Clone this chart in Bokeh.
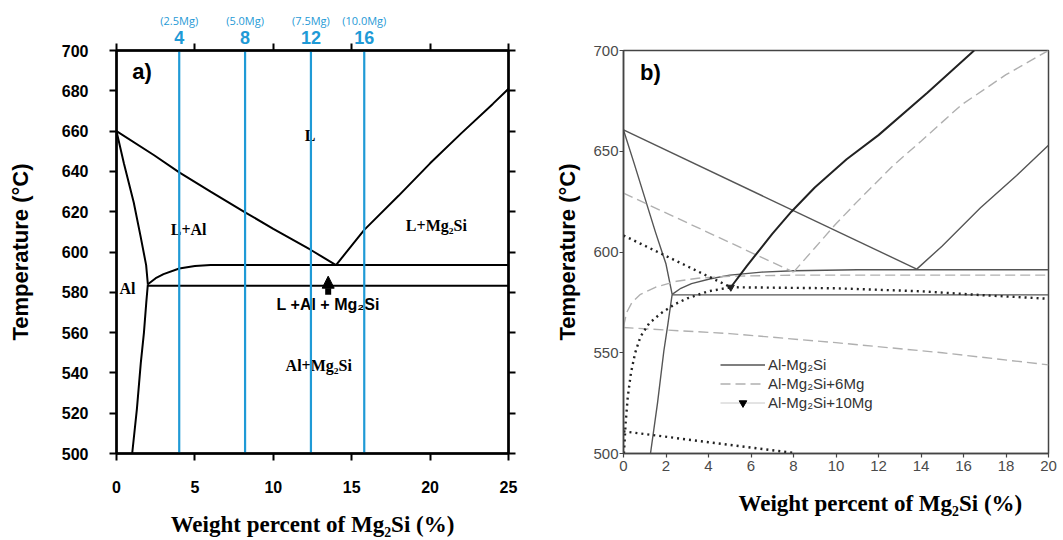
from bokeh.plotting import figure
from bokeh.layouts import row
from bokeh.models import (Range1d, LinearAxis, FixedTicker, Arrow, NormalHead,
                          Legend, LegendItem, Title, ColumnDataSource)
from bokeh.embed import file_html
from bokeh.resources import INLINE
from bokeh.core.properties import value

# ---------------- Panel a data (wt% Mg2Si, temperature in C) ----------------
a_xticks = [0, 5, 10, 15, 20, 25]
a_yticks = [500, 520, 540, 560, 580, 600, 620, 640, 660, 680, 700]

a_liq_al_x = [0, 2.4, 4.0, 6.0, 8.2, 10.0, 12.4, 14.0]
a_liq_al_t = [660, 648, 639.5, 630, 619.7, 611.5, 601, 593.5]
a_liq_mg_x = [14.0, 15.8, 18.0, 20.0, 22.0, 24.0, 25.0]
a_liq_mg_t = [593.5, 611, 628, 644, 659, 673.5, 681]
a_solidus_x = [0, 0.47, 1.1, 1.53, 1.89, 2.0]
a_solidus_t = [660, 644, 624.6, 608, 593.5, 584]
a_solvus_x = [2.0, 1.9, 1.75, 1.55, 1.3, 1.0]
a_solvus_t = [584, 575, 560, 545, 522, 500]
a_upper_x = [2.0, 2.5, 3.0, 4.0, 5.0, 6.0, 25.0]
a_upper_t = [584, 587, 589, 591.8, 593, 593.5, 593.5]
a_eut_x = [2.0, 25.0]
a_eut_t = [583.3, 583.3]

blue_x = [4.0, 8.2, 12.4, 15.8]
blue_num = ["4", "8", "12", "16"]
blue_mg = ["(2.5Mg)", "(5.0Mg)", "(7.5Mg)", "(10.0Mg)"]

region_text = ["L", "L+Al", "L+Mg\u2082Si", "Al", "Al+Mg\u2082Si"]
region_x = [12.35, 4.6, 20.4, 0.7, 12.9]
region_t = [657.6, 611, 613, 582, 543.5]
tern_text = ["L +Al + Mg\u2082Si"]
tern_x = [13.5]
tern_t = [574]
arrow_x = [13.5]
arrow_t0 = [578.8]
arrow_t1 = [588.0]

# ---------------- Panel b data ----------------
b_xticks = [0, 2, 4, 6, 8, 10, 12, 14, 16, 18, 20]
b_yticks = [500, 550, 600, 650, 700]

# Al-Mg2Si
b0_liq_al_x = [0, 13.8]
b0_liq_al_t = [660.6, 591.5]
b0_liq_mg_x = [13.8, 15, 16.8, 18.5, 20]
b0_liq_mg_t = [591.5, 603, 622, 638, 653]
b0_solidus_x = [0, 0.5, 1.0, 1.5, 2.0, 2.29]
b0_solidus_t = [660.6, 644, 627, 610, 594, 579]
b0_solvus_x = [2.29, 2.1, 1.9, 1.6, 1.27]
b0_solvus_t = [579, 565, 551, 525, 500]
b0_upper_x = [2.29, 2.7, 3.2, 4.1, 5, 6.5, 8, 11, 20]
b0_upper_t = [579, 582, 584.3, 586.7, 588.5, 590, 590.7, 591.2, 591.2]
b0_eut_x = [2.29, 20]
b0_eut_t = [578.7, 578.7]

# Al-Mg2Si+6Mg
b6_liq_al_x = [0, 8.0]
b6_liq_al_t = [629.2, 590]
b6_liq_mg_x = [8.0, 9, 10, 11, 12.7, 14, 15.9, 18, 20]
b6_liq_mg_t = [590, 602, 614, 625, 643, 655, 673, 688, 700]
b6_upper_x = [0, 0.15, 0.4, 0.8, 1.5, 2.5, 3.5, 5, 8, 20]
b6_upper_t = [563, 570, 575, 579, 582.5, 585.5, 587, 588, 588.5, 588.5]
b6_lower_x = [0, 5, 10, 15, 20]
b6_lower_t = [562.5, 559.5, 555, 550, 544]

# Al-Mg2Si+10Mg
b10_liq_al_x = [0, 5.05]
b10_liq_al_t = [608.2, 582.5]
b10_liq_mg_x = [5.05, 5.8, 7, 7.9, 9, 10.5, 12, 14.3, 16.5]
b10_liq_mg_t = [582.5, 593, 609, 620, 632, 646, 658, 679, 700]
b10_eut_x = [5.05, 10, 14, 17, 20]
b10_eut_t = [582.5, 582, 580.5, 578.5, 576.8]
b10_curve_x = [0.02, 0.1, 0.2, 0.35, 0.55, 0.8, 1.2, 1.75, 2.4, 3, 4, 5.05]
b10_curve_t = [500, 515, 528, 540, 550, 558, 564.5, 569.5, 574, 577, 580.5, 582.5]
b10_lower_x = [0, 4, 8]
b10_lower_t = [511, 505.6, 500.3]
b10_pt_x = [5.05]
b10_pt_t = [582.5]

legend_labels = ["Al-Mg\u2082Si", "Al-Mg\u2082Si+6Mg", "Al-Mg\u2082Si+10Mg"]

BLUE = "#1f9ad6"
SANS = "Liberation Sans"
SERIF = "Liberation Serif"

# ======================= Panel a =======================
p1 = figure(frame_width=392, frame_height=403, x_range=Range1d(0, 25), y_range=Range1d(500, 700),
            output_backend="svg", toolbar_location=None,
            min_border_left=116, min_border_right=32, min_border_top=50, min_border_bottom=87)
p1.xgrid.visible = False
p1.ygrid.visible = False
p1.outline_line_color = "black"
p1.outline_line_width = 2


def style_axis_a(ax, ticks, labels=True):
    ax.ticker = FixedTicker(ticks=ticks)
    ax.axis_line_width = 2.5
    ax.axis_line_color = "black"
    ax.major_tick_line_width = 2
    ax.major_tick_out = 7
    ax.major_tick_in = 0
    ax.minor_tick_line_color = None
    ax.major_label_text_font = SANS
    ax.major_label_text_font_style = "bold"
    ax.major_label_text_font_size = "16px" if labels else "1px"
    ax.major_label_text_color = "black" if labels else None
    if not labels:
        ax.major_label_standoff = 0


style_axis_a(p1.xaxis[0], a_xticks)
style_axis_a(p1.yaxis[0], a_yticks)
p1.xaxis[0].major_label_standoff = 20
p1.yaxis[0].major_label_standoff = 21
for ax in (p1.xaxis[0], p1.yaxis[0]):
    ax.axis_label_text_color = "black"
    ax.axis_label_text_font_style = "bold"
p1.xaxis[0].axis_label = "Weight percent of Mg\u2082Si (%)"
p1.xaxis[0].axis_label_text_font = SERIF
p1.xaxis[0].axis_label_text_font_size = "23px"
p1.xaxis[0].axis_label_standoff = 16
p1.yaxis[0].axis_label = "Temperature (\u00b0C)"
p1.yaxis[0].axis_label_text_font = SANS
p1.yaxis[0].axis_label_text_font_size = "22px"
p1.yaxis[0].axis_label_standoff = 26

# top axes: black ticks, then blue numbers, then blue Mg contents
top_ax = LinearAxis()
style_axis_a(top_ax, a_xticks, labels=False)
p1.add_layout(top_ax, "above")

num_ax = LinearAxis(ticker=FixedTicker(ticks=blue_x),
                    major_label_overrides={bx: t for bx, t in zip(blue_x, blue_num)},
                    axis_line_color=None, major_tick_line_color=None, minor_tick_line_color=None,
                    major_tick_out=0, major_tick_in=0, major_label_standoff=0,
                    major_label_text_color=BLUE, major_label_text_font=SANS,
                    major_label_text_font_style="bold", major_label_text_font_size="18px")
p1.add_layout(num_ax, "above")
mg_ax = LinearAxis(ticker=FixedTicker(ticks=blue_x),
                   major_label_overrides={bx: t for bx, t in zip(blue_x, blue_mg)},
                   axis_line_color=None, major_tick_line_color=None, minor_tick_line_color=None,
                   major_tick_out=0, major_tick_in=0, major_label_standoff=0,
                   major_label_text_color=BLUE, major_label_text_font="Open Sans",
                   major_label_text_font_size="11px")
p1.add_layout(mg_ax, "above")

right_ax = LinearAxis()
style_axis_a(right_ax, a_yticks, labels=False)
p1.add_layout(right_ax, "right")

for xs, ts in [(a_liq_al_x, a_liq_al_t), (a_liq_mg_x, a_liq_mg_t), (a_solidus_x, a_solidus_t),
               (a_solvus_x, a_solvus_t), (a_upper_x, a_upper_t), (a_eut_x, a_eut_t)]:
    p1.line(xs, ts, line_color="black", line_width=2)

p1.text(region_x, region_t, text=region_text, text_font=value(SERIF), text_font_style="bold",
        text_font_size="16px", text_align="center", text_baseline="middle", text_color="black")
p1.text(tern_x, tern_t, text=tern_text, text_font=value(SANS), text_font_style="bold",
        text_font_size="16px", text_align="center", text_baseline="middle", text_color="black")
p1.text([1.63], [689.4], text=["a)"], text_font=value(SANS), text_font_style="bold",
        text_font_size="22px", text_align="center", text_baseline="middle", text_color="black")

arrow_src = ColumnDataSource(dict(x=arrow_x, t0=arrow_t0, t1=arrow_t1))
p1.add_layout(Arrow(end=NormalHead(size=12, fill_color="black", line_color="black", line_width=1),
                    x_start="x", y_start="t0", x_end="x", y_end="t1", source=arrow_src,
                    line_width=6, line_color="black"))

p1.segment(x0=blue_x, y0=[500] * len(blue_x), x1=blue_x, y1=[700] * len(blue_x),
           line_color=BLUE, line_width=2.2)

# ======================= Panel b =======================
p2 = figure(frame_width=425, frame_height=403, x_range=Range1d(0, 20), y_range=Range1d(500, 700),
            output_backend="svg", toolbar_location=None,
            min_border_left=83, min_border_right=15, min_border_top=50, min_border_bottom=87)
p2.xgrid.visible = False
p2.ygrid.visible = False
p2.outline_line_color = "#444444"
p2.outline_line_width = 1.5

for ax, ticks in [(p2.xaxis[0], b_xticks), (p2.yaxis[0], b_yticks)]:
    ax.ticker = FixedTicker(ticks=ticks)
    ax.axis_line_color = "#444444"
    ax.axis_line_width = 1.5
    ax.major_tick_line_color = "#444444"
    ax.major_tick_line_width = 1.2
    ax.major_tick_out = 4
    ax.major_tick_in = 0
    ax.minor_tick_line_color = None
    ax.major_label_text_font = SANS
    ax.major_label_text_font_size = "15px"
    ax.major_label_text_color = "#4a4a4a"
p2.xaxis[0].major_label_standoff = 3
p2.yaxis[0].major_label_standoff = 1
p2.yaxis[0].axis_label = "Temperature (\u00b0C)"
p2.yaxis[0].axis_label_text_font = SANS
p2.yaxis[0].axis_label_text_font_style = "bold"
p2.yaxis[0].axis_label_text_font_size = "22px"
p2.yaxis[0].axis_label_text_color = "black"
p2.yaxis[0].axis_label_standoff = 10

p2.add_layout(Title(text="Weight percent of Mg\u2082Si (%)", align="left", offset=115,
                    text_font=SERIF, text_font_style="bold", text_font_size="23px",
                    text_color="black", standoff=30), "below")

SOLID = "#555555"
DASH = "#b0b0b0"
DOT = "#222222"

r_solid = None
for xs, ts in [(b0_liq_al_x, b0_liq_al_t), (b0_liq_mg_x, b0_liq_mg_t), (b0_solidus_x, b0_solidus_t),
               (b0_solvus_x, b0_solvus_t), (b0_upper_x, b0_upper_t), (b0_eut_x, b0_eut_t)]:
    r = p2.line(xs, ts, line_color=SOLID, line_width=1.4)
    r_solid = r_solid or r

r_dash = None
for xs, ts in [(b6_liq_al_x, b6_liq_al_t), (b6_liq_mg_x, b6_liq_mg_t), (b6_upper_x, b6_upper_t),
               (b6_lower_x, b6_lower_t)]:
    r = p2.line(xs, ts, line_color=DASH, line_width=1.4, line_dash="10 5")
    r_dash = r_dash or r

for xs, ts in [(b10_liq_al_x, b10_liq_al_t), (b10_eut_x, b10_eut_t), (b10_curve_x, b10_curve_t),
               (b10_lower_x, b10_lower_t)]:
    p2.line(xs, ts, line_color=DOT, line_width=2.4, line_dash="2 4")
p2.line(b10_liq_mg_x, b10_liq_mg_t, line_color=DOT, line_width=2.0)
p2.scatter(b10_pt_x, b10_pt_t, marker="inverted_triangle", size=7, color=DOT)

p2.text([1.27], [689], text=["b)"], text_font=value(SANS), text_font_style="bold",
        text_font_size="22px", text_align="center", text_baseline="middle", text_color="black")

# hidden renderers that only supply the legend glyph of the third item
leg_line = p2.line(b10_liq_al_x, b10_liq_al_t, line_color="#c8c8c8", line_width=1, visible=False)
leg_mark = p2.scatter(b10_pt_x, b10_pt_t, marker="inverted_triangle", size=13, color="black",
                      visible=False)
legend = Legend(items=[LegendItem(label=legend_labels[0], renderers=[r_solid]),
                       LegendItem(label=legend_labels[1], renderers=[r_dash]),
                       LegendItem(label=legend_labels[2], renderers=[leg_line, leg_mark])],
                location=(97, 41), orientation="vertical",
                background_fill_alpha=0, border_line_alpha=0, inactive_fill_alpha=0,
                label_text_font=SANS, label_text_font_size="15px", label_text_color="#333333",
                glyph_width=45, glyph_height=19, label_height=18, label_standoff=3,
                spacing=0, padding=0, margin=0)
p2.add_layout(legend)

layout = row(p1, p2, spacing=0)
open("out.html", "w").write(file_html(layout, INLINE))
